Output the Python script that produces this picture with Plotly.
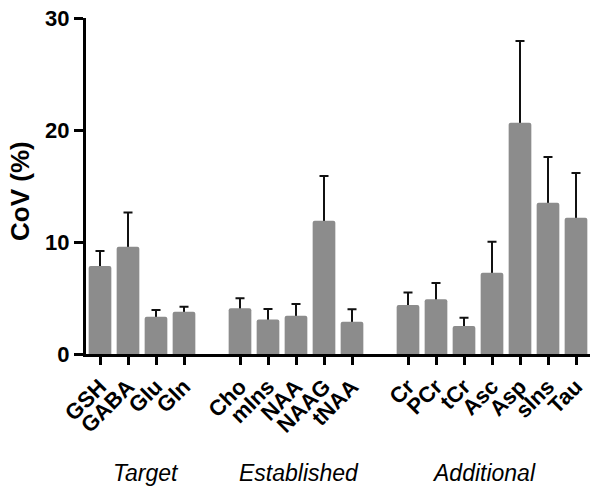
import plotly.graph_objects as go

metabolites = ["GSH", "GABA", "Glu", "Gln",
               "Cho", "mIns", "NAA", "NAAG", "tNAA",
               "Cr", "PCr", "tCr", "Asc", "Asp", "sIns", "Tau"]
slots = [0, 1, 2, 3, 5, 6, 7, 8, 9, 11, 12, 13, 14, 15, 16, 17]
cov = [7.86, 9.58, 3.33, 3.78,
       4.08, 3.09, 3.42, 11.9, 2.89,
       4.38, 4.88, 2.50, 7.26, 20.65, 13.5, 12.17]
err_up = [1.34, 3.06, 0.60, 0.44,
          0.89, 0.93, 1.04, 4.00, 1.10,
          1.10, 1.46, 0.74, 2.77, 7.30, 4.10, 4.00]
groups = ["Target", "Established", "Additional"]
group_x = [1.64, 7.1, 13.7]
y_ticks = [0, 10, 20, 30]

FONT = "Liberation Sans, Arial, sans-serif"
BAR_COLOR = "#8c8c8c"

fig = go.Figure()
# error bars (transparent bars), lower part hidden under the visible bars
fig.add_trace(go.Bar(
    x=slots, y=cov, width=0.81,
    marker=dict(color="rgba(0,0,0,0)", line=dict(width=0)),
    error_y=dict(type="data", symmetric=False, array=err_up,
                 arrayminus=[1.0] * len(err_up),
                 color="#111111", thickness=2, width=4.5),
    hoverinfo="skip",
))
fig.add_trace(go.Bar(
    x=slots, y=cov, width=0.81,
    marker=dict(color=BAR_COLOR, line=dict(width=0), cornerradius=2),
))

fig.update_layout(
    width=600, height=494,
    margin=dict(l=86, r=10, t=18, b=140),
    plot_bgcolor="white", paper_bgcolor="white",
    showlegend=False, barmode="overlay",
    font=dict(family=FONT, color="black"),
    xaxis=dict(
        range=[-0.5, 17.5], tickmode="array", tickvals=slots, ticktext=metabolites,
        tickangle=-45, tickfont=dict(size=22, family=FONT, weight="bold"),
        showline=True, linecolor="black", linewidth=3,
        ticks="outside", ticklen=8, tickwidth=3, tickcolor="black",
        showgrid=False, zeroline=False, automargin=False,
        ticklabeloverflow="allow",
    ),
    yaxis=dict(
        range=[0, 30], tickvals=y_ticks,
        tickfont=dict(size=22, family=FONT, weight="bold"),
        showline=True, linecolor="black", linewidth=3,
        ticks="outside", ticklen=9, tickwidth=3, tickcolor="black",
        showgrid=False, zeroline=False, automargin=False,
        ticklabeloverflow="allow",
    ),
)

fig.add_annotation(
    text="CoV (%)", textangle=-90, xref="paper", yref="paper",
    x=(20 - 86) / 504, y=(354 - 191) / 336, xanchor="center", yanchor="middle",
    showarrow=False, font=dict(size=26, family=FONT, weight="bold"),
)

for g, gx in zip(groups, group_x):
    fig.add_annotation(
        text=g, xref="x", yref="paper", x=gx, y=(354 - 473) / 336,
        xanchor="center", yanchor="middle", showarrow=False,
        font=dict(size=23, family=FONT, style="italic"),
    )

# remove the browser's default 8px body margin so the figure fills the window
fig.write_html("out.html", config={"displayModeBar": False},
               post_script="document.body.style.margin='0';")
